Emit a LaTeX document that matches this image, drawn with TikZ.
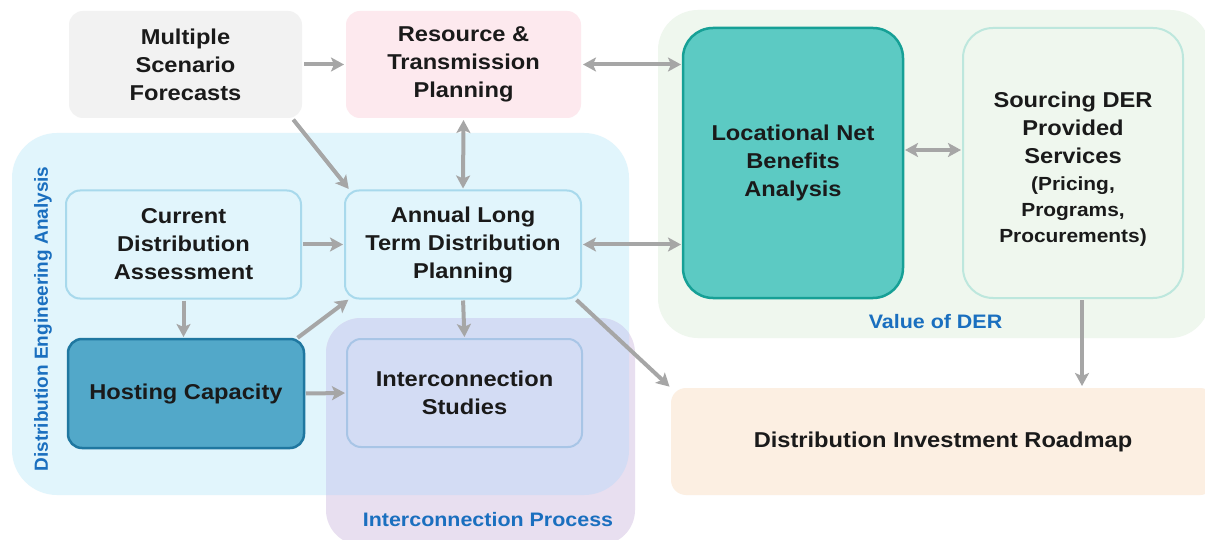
\documentclass[tikz,border=0pt]{standalone}
\usepackage{fontspec}
\setmainfont{Liberation Sans}[FakeStretch=1.1]
\newfontfamily\plainsans{Liberation Sans}
\usetikzlibrary{arrows.meta}
\definecolor{arrgray}{HTML}{A6A6A6}
\definecolor{msfcol}{HTML}{F2F2F2}
\definecolor{rtpcol}{HTML}{FDE9EE}
\definecolor{deacol}{HTML}{E1F5FC}
\definecolor{deabrd}{HTML}{A8D9EC}
\definecolor{hccol}{HTML}{52A8C9}
\definecolor{hcbrd}{HTML}{1F77A0}
\definecolor{iscol}{HTML}{D3DCF4}
\definecolor{isbrd}{HTML}{A8C5E6}
\definecolor{icpcol}{HTML}{E8DFF0}
\definecolor{vdercol}{HTML}{EFF7EE}
\definecolor{lnbacol}{HTML}{5CCAC3}
\definecolor{lnbabrd}{HTML}{16A096}
\definecolor{sderbrd}{HTML}{BDE7DD}
\definecolor{dircol}{HTML}{FCEFE2}
\definecolor{lblblue}{HTML}{1A6FBF}
\definecolor{txtcol}{HTML}{1A1A1A}
\newcommand\mainfnt{\fontsize{21.5}{28}\selectfont\bfseries}
\newcommand\subfnt{\fontsize{19}{26}\selectfont\bfseries}
\newcommand\lblfnt{\fontsize{19.5}{24}\selectfont\bfseries}
\tikzset{
  box/.style={rounded corners=14pt, align=center, inner sep=0pt, outer sep=0pt,
    font=\mainfnt, text=txtcol},
  regionlbl/.style={font=\lblfnt, text=lblblue, inner sep=0pt},
  arr/.style={draw=arrgray, line width=4pt, shorten >=2pt, shorten <=2pt,
    -{Stealth[length=13pt,width=14pt,inset=3pt]}},
  darr/.style={draw=arrgray, line width=4pt, shorten >=2pt, shorten <=2pt,
    {Stealth[length=13pt,width=14pt,inset=3pt]}-{Stealth[length=13pt,width=14pt,inset=3pt]}}
}
\begin{document}
\begin{tikzpicture}[x=1pt,y=-1pt]
\useasboundingbox (0,0) rectangle (1205,540);
\clip (0,0) rectangle (1205,540);
\fill[white] (0,0) rectangle (1205,540);
% regions
\fill[deacol, rounded corners=45pt] (12,133) rectangle (629,495);
\fill[icpcol, rounded corners=35pt] (326,318) rectangle (635,545);
\begin{scope}
  \clip[rounded corners=45pt] (12,133) rectangle (629,495);
  \fill[iscol, rounded corners=35pt] (326,318) rectangle (635,545);
\end{scope}
\fill[vdercol, rounded corners=40pt] (658,10) rectangle (1210,338);
% boxes
\node[box, fill=msfcol, minimum width=233pt, minimum height=107pt] (msf) at (185.5,64.5) {Multiple\\Scenario\\Forecasts};
\node[box, fill=rtpcol, minimum width=235pt, minimum height=107pt] (rtp) at (463.5,64.5) {Resource \&\\Transmission\\Planning};
\node[box, fill=deacol, draw=deabrd, line width=2pt, minimum width=235pt, minimum height=108pt] (cda) at (183.5,244.5) {Current\\Distribution\\Assessment};
\node[box, fill=deacol, draw=deabrd, line width=2pt, minimum width=236pt, minimum height=108pt] (altdp) at (463,244.5) {Annual Long\\Term Distribution\\Planning};
\node[box, fill=hccol, draw=hcbrd, line width=2.5pt, minimum width=236pt, minimum height=109pt] (hc) at (186,393.5) {Hosting Capacity};
\node[box, fill=iscol, draw=isbrd, line width=2pt, minimum width=235pt, minimum height=108pt] (is) at (464.5,393) {Interconnection\\Studies};
\node[box, rounded corners=30pt, fill=lnbacol, draw=lnbabrd, line width=2.5pt, minimum width=220pt, minimum height=270pt] (lnba) at (793,163) {Locational Net\\Benefits\\Analysis};
\node[box, rounded corners=30pt, fill=vdercol, draw=sderbrd, line width=2pt, minimum width=220pt, minimum height=270pt] (sder) at (1073,163) {};
\node[box, align=center] (sdertxt) at ([yshift=-6pt]sder.center)
  {\begin{tabular}{@{}c@{}}Sourcing DER\\Provided\\Services\end{tabular}\\[-1pt]
   {\subfnt\begin{tabular}{@{}c@{}}(Pricing,\\Programs,\\Procurements)\end{tabular}}};
\node[box, rounded corners=15pt, fill=dircol, minimum width=544pt, minimum height=107pt] (dir) at (943,441.5) {Distribution Investment Roadmap};
% labels
\node[regionlbl] (vderlbl) at (935.5,322) {Value of DER};
\node[regionlbl] (icplbl) at (488,520) {Interconnection Process};
\node[regionlbl, font={\plainsans\fontsize{19}{24}\selectfont\bfseries}, rotate=90] (dealbl) at (43,319) {Distribution Engineering Analysis};
% connectors
\draw[arr] (msf.east) -- (rtp.west);
\draw[darr] (rtp.east) -- (rtp.east -| lnba.west);
\draw[arr] ([xshift=-10pt]msf.south east) -- ([xshift=5pt]altdp.north west);
\draw[darr] (rtp.south) -- (altdp.north);
\draw[arr] (cda.east) -- (altdp.west);
\draw[darr] (altdp.east) -- (altdp.east -| lnba.west);
\draw[darr] ([yshift=13pt]lnba.east) -- ([yshift=13pt]sder.west);
\draw[arr] (cda.south) -- (cda.south |- hc.north);
\draw[arr] ([xshift=-8pt]hc.north east) -- ([xshift=5pt]altdp.south west);
\draw[arr] (altdp.south) -- (is.north);
\draw[arr] (hc.east) -- (is.west);
\draw[arr] ([xshift=-6pt]altdp.south east) -- (dir.north west);
\coordinate (sderout) at ([xshift=9pt]sder.south);
\draw[arr] (sderout) -- (sderout |- dir.north);
\end{tikzpicture}
\end{document}
